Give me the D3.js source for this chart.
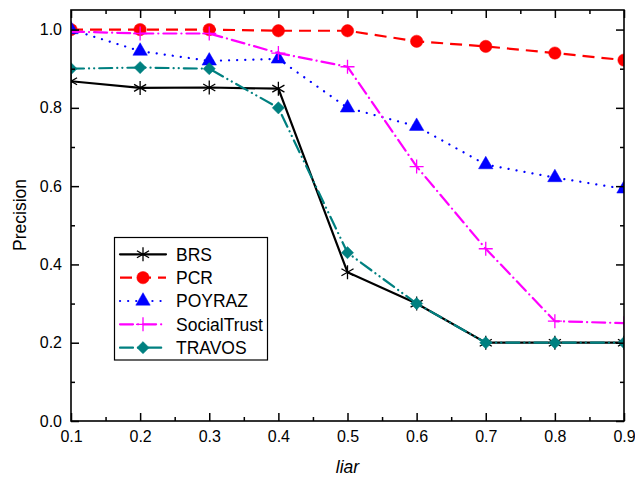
<!DOCTYPE html>
<html>
<head>
<meta charset="utf-8">
<script src="https://cdn.jsdelivr.net/npm/d3@7"></script>
<style>
  body { margin: 0; background: #fff; }
  svg { font-family: "Liberation Sans", Arial, sans-serif; }
</style>
</head>
<body>
<div id="plot"></div>
<script>
    const liar = [0.1, 0.2, 0.3, 0.4, 0.5, 0.6, 0.7, 0.8, 0.9];
    const brs = [0.868, 0.851, 0.852, 0.849, 0.38, 0.30, 0.20, 0.20, 0.20];
    const pcr = [1.0, 1.0, 1.0, 0.997, 0.997, 0.970, 0.957, 0.940, 0.922];
    const poyraz = [1.0, 0.945, 0.92, 0.925, 0.80, 0.753, 0.655, 0.622, 0.593];
    const socialTrust = [0.995, 0.99, 0.99, 0.94, 0.905, 0.65, 0.44, 0.255, 0.25];
    const travos = [0.90, 0.903, 0.90, 0.80, 0.43, 0.30, 0.20, 0.20, 0.20];

    const xTicks = [0.1, 0.2, 0.3, 0.4, 0.5, 0.6, 0.7, 0.8, 0.9];
    const xMinor = [0.15, 0.25, 0.35, 0.45, 0.55, 0.65, 0.75, 0.85];
    const yTicks = [0.0, 0.2, 0.4, 0.6, 0.8, 1.0];
    const yMinor = [0.1, 0.3, 0.5, 0.7, 0.9];

    const series = [
      { name: "BRS", values: brs, color: "#000000", dash: null, marker: "asterisk" },
      { name: "PCR", values: pcr, color: "#ff0000", dash: "12,7", marker: "circle" },
      { name: "POYRAZ", values: poyraz, color: "#0000ff", dash: "0.1,8", marker: "triangle" },
      { name: "SocialTrust", values: socialTrust, color: "#ff00ff", dash: "13,5,0.1,5", marker: "plus" },
      { name: "TRAVOS", values: travos, color: "#008080", dash: "13,5,0.1,5,0.1,5", marker: "diamond" },
    ];

    const plotLeft = 71, plotRight = 624, plotTop = 10, plotBottom = 421;

    const svg = d3.select("div#plot")
      .append("svg")
        .attr("width", 635)
        .attr("height", 480);

    const xScale = d3.scaleLinear().domain([0.1, 0.9]).range([plotLeft, plotRight]);
    const yScale = d3.scaleLinear().domain([0, 1.05]).range([plotBottom, plotTop]);

    svg.append("clipPath")
      .attr("id", "clip")
      .append("rect")
        .attr("x", plotLeft)
        .attr("y", plotTop)
        .attr("width", plotRight - plotLeft)
        .attr("height", plotBottom - plotTop);

    function markerPath(type) {
      if (type === "asterisk") {
        const r = 7;
        const a = r * Math.cos(Math.PI / 6), b = r * Math.sin(Math.PI / 6);
        return `M0,${-r}L0,${r}M${-a},${-b}L${a},${b}M${-a},${b}L${a},${-b}`;
      }
      if (type === "plus") {
        const r = 7;
        return `M0,${-r}L0,${r}M${-r},0L${r},0`;
      }
      if (type === "circle") return d3.symbol(d3.symbolCircle, 120)();
      if (type === "triangle") return d3.symbol(d3.symbolTriangle, 90)();
      if (type === "diamond") return d3.symbol(d3.symbolDiamond2, 95)();
    }

    function drawMarker(g, s, x, y) {
      const stroked = s.marker === "asterisk" || s.marker === "plus";
      g.append("path")
        .attr("d", markerPath(s.marker))
        .attr("transform", `translate(${x},${y})`)
        .attr("fill", stroked ? "none" : s.color)
        .attr("stroke", s.color)
        .attr("stroke-width", stroked ? 1.3 : 0.5);
    }

    const line = d3.line()
      .x((d, i) => xScale(liar[i]))
      .y(d => yScale(d));

    const plot = svg.append("g").attr("clip-path", "url(#clip)");

    series.forEach(s => {
      plot.append("path")
        .datum(s.values)
        .attr("d", line)
        .attr("fill", "none")
        .attr("stroke", s.color)
        .attr("stroke-width", 2.2)
        .attr("stroke-linecap", s.marker === "circle" ? "butt" : "round")
        .attr("stroke-dasharray", s.dash);
      s.values.forEach((v, i) => drawMarker(plot, s, xScale(liar[i]), yScale(v)));
    });

    // axes: ticks inward on all four sides
    function addAxis(axisFn, scale, values, size, transform, labels) {
      const ax = axisFn(scale)
        .tickValues(values)
        .tickSize(-size)
        .tickPadding(labels ? 8 : 0)
        .tickFormat(labels ? d3.format(".1f") : "");
      const g = svg.append("g")
        .attr("transform", transform)
        .attr("font-size", null)
        .call(ax);
      g.select(".domain").remove();
      g.selectAll(".tick line").attr("stroke", "#000").attr("stroke-width", 1.5);
      g.selectAll(".tick text")
        .attr("fill", "#000")
        .style("font-size", "16px")
        .style("font-family", "Liberation Sans, Arial, sans-serif");
      return g;
    }

    const gx = addAxis(d3.axisBottom, xScale, xTicks, 8, `translate(0,${plotBottom})`, true);
    gx.selectAll(".tick text").attr("y", 10).attr("dy", "0.71em");
    addAxis(d3.axisBottom, xScale, xMinor, 4, `translate(0,${plotBottom})`, false);
    addAxis(d3.axisTop, xScale, xTicks, 8, `translate(0,${plotTop})`, false);
    addAxis(d3.axisTop, xScale, xMinor, 4, `translate(0,${plotTop})`, false);
    const gy = addAxis(d3.axisLeft, yScale, yTicks, 8, `translate(${plotLeft},0)`, true);
    gy.selectAll(".tick text").attr("x", -9);
    addAxis(d3.axisLeft, yScale, yMinor, 4, `translate(${plotLeft},0)`, false);
    addAxis(d3.axisRight, yScale, yTicks, 8, `translate(${plotRight},0)`, false);
    addAxis(d3.axisRight, yScale, yMinor, 4, `translate(${plotRight},0)`, false);

    svg.append("rect")
      .attr("x", plotLeft)
      .attr("y", plotTop)
      .attr("width", plotRight - plotLeft)
      .attr("height", plotBottom - plotTop)
      .attr("fill", "none")
      .attr("stroke", "#000")
      .attr("stroke-width", 1.6);

    svg.append("text")
      .attr("transform", "rotate(-90)")
      .attr("x", -215)
      .attr("y", 26)
      .attr("text-anchor", "middle")
      .style("font-size", "17.5px")
      .text("Precision");

    svg.append("text")
      .attr("x", (plotLeft + plotRight) / 2)
      .attr("y", 473)
      .attr("text-anchor", "middle")
      .style("font-size", "17.5px")
      .style("font-style", "italic")
      .text("liar");

    // legend
    const key = svg.append("g");

    key.append("rect")
      .attr("x", 114.5)
      .attr("y", 237.5)
      .attr("width", 153)
      .attr("height", 122.5)
      .attr("fill", "#fff")
      .attr("stroke", "#000")
      .attr("stroke-width", 1.2);

    series.forEach((s, i) => {
      const y = 254.3 + i * 23.35;
      key.append("line")
        .attr("x1", 120)
        .attr("x2", 166)
        .attr("y1", y)
        .attr("y2", y)
        .attr("stroke", s.color)
        .attr("stroke-width", 2.2)
        .attr("stroke-linecap", s.marker === "circle" ? "butt" : "round")
        .attr("stroke-dasharray", s.dash);
      drawMarker(key, s, 143, y);
      key.append("text")
        .attr("x", 176)
        .attr("y", y + 6.3)
        .style("font-size", "17.5px")
        .text(s.name);
    });
</script>
</body>
</html>
